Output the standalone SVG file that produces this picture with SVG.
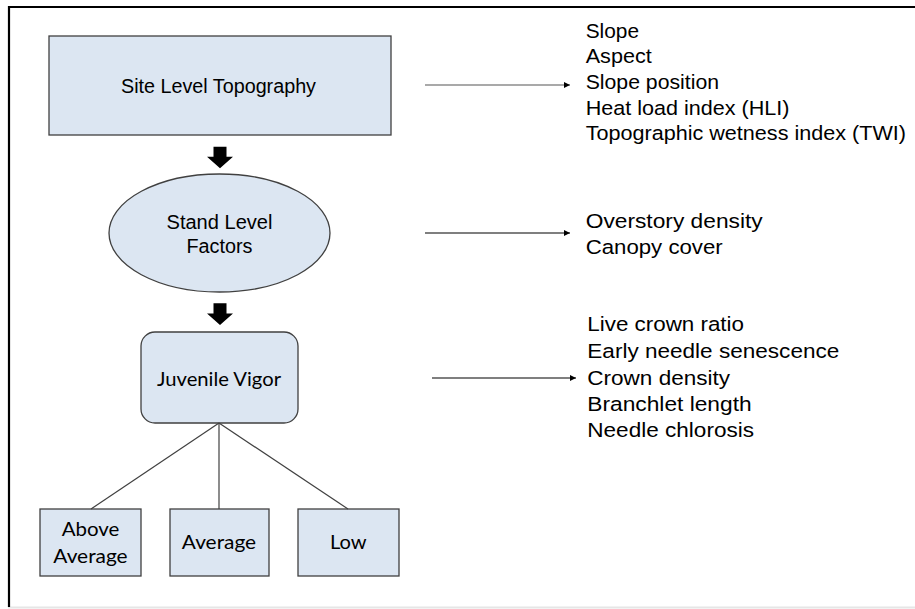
<svg xmlns="http://www.w3.org/2000/svg" width="915" height="609" viewBox="0 0 915 609">
<defs>
<style>
.box{fill:#dce6f2;stroke:#404040;stroke-width:1.3}
.ar{font-family:"Liberation Sans",Arial,sans-serif;fill:#000}
.ca{font-family:Lato,"Open Sans",sans-serif;fill:#000}
.lst{font-family:"Liberation Sans",Arial,sans-serif;font-size:20.5px;fill:#000}
.conn{stroke:#000;stroke-width:1.2;fill:none}
.gray{stroke:#555}
.tree{stroke:#404040;stroke-width:1.2;fill:none}
.blk{fill:#000}
</style>
<marker id="ah" viewBox="0 0 10 10" refX="10" refY="5" markerWidth="8" markerHeight="6" markerUnits="userSpaceOnUse" orient="auto">
<path d="M0,0 L10,5 L0,10 z" fill="#000"/>
</marker>
</defs>
<rect x="0" y="0" width="915" height="609" fill="#fff"/>
<line x1="8" y1="607.5" x2="915" y2="607.5" stroke="#e6e6e6" stroke-width="2"/>
<line x1="8" y1="7" x2="915" y2="7" stroke="#000" stroke-width="2.2"/>
<line x1="9" y1="6" x2="9" y2="607" stroke="#000" stroke-width="2.2"/>

<g id="site">
<rect class="box" x="49" y="36" width="342" height="99"/>
<text class="ar" x="218.5" y="93.3" font-size="19.5" text-anchor="middle" textLength="195" lengthAdjust="spacingAndGlyphs">Site Level Topography</text>
</g>
<g id="stand">
<ellipse class="box" cx="219.5" cy="233" rx="110.5" ry="59"/>
<text class="ar" x="219.5" y="229.3" font-size="19.5" text-anchor="middle" textLength="106" lengthAdjust="spacingAndGlyphs">Stand Level</text>
<text class="ar" x="219.5" y="252.7" font-size="19.5" text-anchor="middle" textLength="66" lengthAdjust="spacingAndGlyphs">Factors</text>
</g>
<g id="vigor">
<rect class="box" x="141" y="332" width="157" height="91" rx="14" ry="14"/>
<text class="ca" x="219" y="385.7" font-size="19.5" text-anchor="middle" textLength="124" lengthAdjust="spacingAndGlyphs">Juvenile Vigor</text>
</g>
<g id="above">
<rect class="box" x="40" y="509" width="101" height="67"/>
<text class="ca" x="90.5" y="536" font-size="18.7" text-anchor="middle" textLength="57.7" lengthAdjust="spacingAndGlyphs">Above</text>
<text class="ca" x="90.5" y="563" font-size="18.7" text-anchor="middle" textLength="74.3" lengthAdjust="spacingAndGlyphs">Average</text>
</g>
<g id="average">
<rect class="box" x="170" y="509" width="99" height="67"/>
<text class="ca" x="219" y="549.3" font-size="18.7" text-anchor="middle" textLength="74.3" lengthAdjust="spacingAndGlyphs">Average</text>
</g>
<g id="low">
<rect class="box" x="298" y="509" width="101" height="67"/>
<text class="ca" x="348.3" y="549.3" font-size="18.7" text-anchor="middle" textLength="36.7" lengthAdjust="spacingAndGlyphs">Low</text>
</g>

<g id="list-topo">
<text class="lst" x="585.7" y="37.7" textLength="53.3" lengthAdjust="spacingAndGlyphs">Slope</text>
<text class="lst" x="585.7" y="63.3" textLength="66" lengthAdjust="spacingAndGlyphs">Aspect</text>
<text class="lst" x="585.7" y="89" textLength="133.3" lengthAdjust="spacingAndGlyphs">Slope position</text>
<text class="lst" x="585.7" y="114.5" textLength="203.7" lengthAdjust="spacingAndGlyphs">Heat load index (HLI)</text>
<text class="lst" x="585.7" y="140" textLength="320.3" lengthAdjust="spacingAndGlyphs">Topographic wetness index (TWI)</text>
</g>
<g id="list-stand">
<text class="lst" x="585.7" y="227.7" textLength="177" lengthAdjust="spacingAndGlyphs">Overstory density</text>
<text class="lst" x="585.7" y="254.3" textLength="137" lengthAdjust="spacingAndGlyphs">Canopy cover</text>
</g>
<g id="list-vigor">
<text class="lst" x="587.3" y="330.7" textLength="156.7" lengthAdjust="spacingAndGlyphs">Live crown ratio</text>
<text class="lst" x="587.3" y="358" textLength="252" lengthAdjust="spacingAndGlyphs">Early needle senescence</text>
<text class="lst" x="587.3" y="384.8" textLength="142.7" lengthAdjust="spacingAndGlyphs">Crown density</text>
<text class="lst" x="587.3" y="411" textLength="164.3" lengthAdjust="spacingAndGlyphs">Branchlet length</text>
<text class="lst" x="587.3" y="437" textLength="166.7" lengthAdjust="spacingAndGlyphs">Needle chlorosis</text>
</g>

<g id="connectors">
<line class="conn gray" x1="425" y1="85" x2="570" y2="85" marker-end="url(#ah)"/>
<line class="conn" x1="425" y1="233" x2="570" y2="233" marker-end="url(#ah)"/>
<line class="conn" x1="432" y1="378" x2="576" y2="378" marker-end="url(#ah)"/>
<path class="blk" d="M213.5,146.7 H226.5 V156.7 H233 L220,168.3 L207,156.7 H213.5 Z"/>
<path class="blk" d="M213.5,303.3 H226.5 V313.5 H233 L220,325 L207,313.5 H213.5 Z"/>
<line class="tree" x1="219" y1="423" x2="91" y2="509"/>
<line class="tree" x1="219" y1="423" x2="219" y2="509"/>
<line class="tree" x1="219" y1="423" x2="348" y2="509"/>
</g>
</svg>
